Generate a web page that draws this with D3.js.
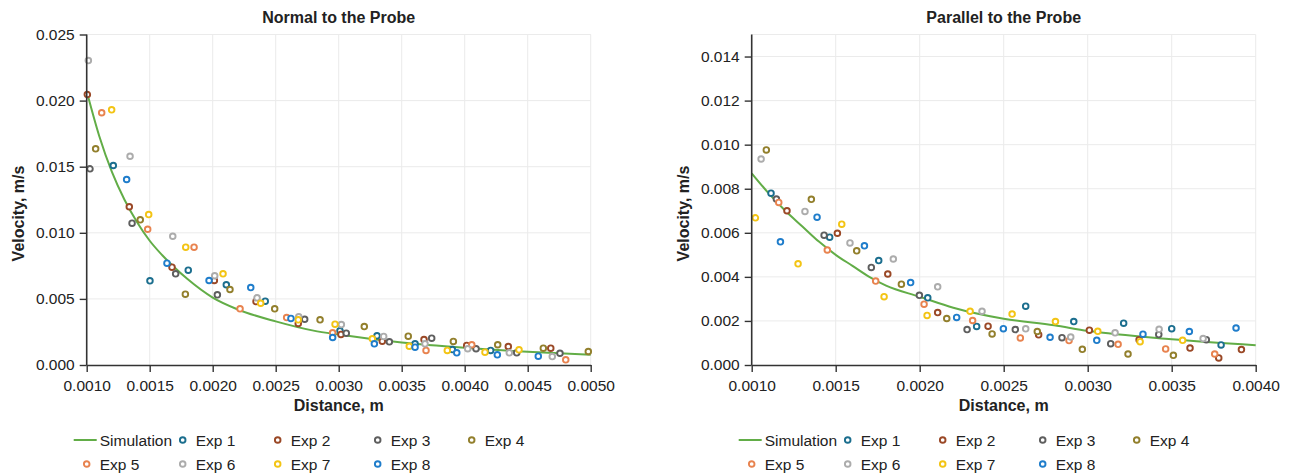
<!DOCTYPE html>
<html>
<head>
<meta charset="utf-8">
<script src="https://cdn.jsdelivr.net/npm/d3@7"></script>
<style>
  body { margin: 0; background: #fff; }
  svg text { font-family: "Liberation Sans", Arial, sans-serif; fill: #222; }
</style>
</head>
<body>
<script>
// simulation curves
var normalSimDist = [0.0010, 0.0011, 0.0012, 0.0013, 0.0014, 0.0015, 0.0016, 0.0018, 0.0020, 0.0022, 0.0025, 0.0028, 0.0030, 0.0035, 0.0040, 0.0045, 0.0050];
var normalSimVel  = [0.0207, 0.0173, 0.0146, 0.0125, 0.0108, 0.0094, 0.0083, 0.0065, 0.0051, 0.0042, 0.0033, 0.0026, 0.0023, 0.0017, 0.0013, 0.0010, 0.00078];

var parallelSimDist = [0.0010, 0.0011, 0.0012, 0.0013, 0.0014, 0.0015, 0.0016, 0.0017, 0.0018, 0.0020, 0.0022, 0.0025, 0.0028, 0.0030, 0.0035, 0.0040];
var parallelSimVel  = [0.0087, 0.0078, 0.0070, 0.0063, 0.0056, 0.0050, 0.0045, 0.0040, 0.0036, 0.0031, 0.0026, 0.0021, 0.0018, 0.00155, 0.00117, 0.00090];

// measurements, [distance, velocity]
var normalExp1 = [[0.001211,0.01509],[0.001502,0.00637],[0.001806,0.00717],[0.002108,0.00607],[0.002417,0.00483],[0.003010,0.00259],[0.003304,0.00221],[0.003606,0.00160],[0.003902,0.00117],[0.004206,0.00110]];
var normalExp2 = [[0.001005,0.02046],[0.001338,0.01197],[0.001677,0.00740],[0.002013,0.00639],[0.002344,0.00480],[0.002679,0.00314],[0.003018,0.00231],[0.003346,0.00180],[0.003677,0.00193],[0.004016,0.00148],[0.004346,0.00140],[0.004683,0.00127]];
var normalExp3 = [[0.001026,0.01484],[0.001360,0.01073],[0.001706,0.00690],[0.002037,0.00531],[0.002730,0.00346],[0.003060,0.00241],[0.003402,0.00175],[0.003738,0.00203],[0.004090,0.00123],[0.004413,0.00092],[0.004756,0.00089]];
var normalExp4 = [[0.001071,0.01635],[0.001425,0.01098],[0.001783,0.00536],[0.002137,0.00571],[0.002492,0.00425],[0.002852,0.00342],[0.003203,0.00291],[0.003552,0.00218],[0.003910,0.00178],[0.004262,0.00153],[0.004624,0.00127],[0.004981,0.00102]];
var normalExp5 = [[0.001119,0.01908],[0.001484,0.01027],[0.001852,0.00891],[0.002217,0.00425],[0.002587,0.00359],[0.002952,0.00244],[0.003693,0.00110],[0.004056,0.00153],[0.004802,0.00039]];
var normalExp6 = [[0.001013,0.02303],[0.001344,0.01579],[0.001683,0.00974],[0.002016,0.00675],[0.002352,0.00508],[0.002683,0.00365],[0.003021,0.00306],[0.003357,0.00216],[0.003685,0.00160],[0.004024,0.00123],[0.004354,0.00092],[0.004695,0.00064]];
var normalExp7 = [[0.001198,0.01930],[0.001492,0.01138],[0.001786,0.00891],[0.002082,0.00690],[0.002381,0.00467],[0.002679,0.00342],[0.002971,0.00309],[0.003267,0.00198],[0.003560,0.00142],[0.003862,0.00110],[0.004161,0.00097],[0.004431,0.00115]];
var normalExp8 = [[0.001317,0.01403],[0.001637,0.00770],[0.001971,0.00639],[0.002302,0.00586],[0.002621,0.00352],[0.002952,0.00208],[0.003283,0.00160],[0.003606,0.00135],[0.003937,0.00092],[0.004259,0.00077],[0.004584,0.00067]];

var parallelExp1 = [[0.001115,0.00780],[0.001464,0.00580],[0.001756,0.00474],[0.002048,0.00305],[0.002339,0.00175],[0.002631,0.00267],[0.002917,0.00197],[0.003214,0.00190],[0.003500,0.00165],[0.003794,0.00091]];
var parallelExp2 = [[0.001210,0.00700],[0.001510,0.00598],[0.001810,0.00413],[0.002107,0.00238],[0.002407,0.00176],[0.002708,0.00137],[0.003010,0.00158],[0.003306,0.00115],[0.003609,0.00077],[0.003780,0.00032],[0.003915,0.00070]];
var parallelExp3 = [[0.001147,0.00753],[0.001431,0.00589],[0.001712,0.00443],[0.001998,0.00316],[0.002282,0.00161],[0.002569,0.00161],[0.002847,0.00124],[0.003137,0.00097],[0.003423,0.00138],[0.003706,0.00115]];
var parallelExp4 = [[0.001087,0.00976],[0.001355,0.00752],[0.001625,0.00518],[0.001891,0.00367],[0.002161,0.00211],[0.002431,0.00141],[0.002700,0.00152],[0.002968,0.00071],[0.003240,0.00050],[0.003510,0.00044]];
var parallelExp5 = [[0.001161,0.00738],[0.001450,0.00522],[0.001738,0.00381],[0.002026,0.00276],[0.002315,0.00202],[0.002599,0.00123],[0.002889,0.00111],[0.003181,0.00094],[0.003464,0.00073],[0.003756,0.00050]];
var parallelExp6 = [[0.001056,0.00935],[0.001317,0.00697],[0.001585,0.00554],[0.001843,0.00481],[0.002107,0.00355],[0.002371,0.00244],[0.002631,0.00164],[0.002899,0.00127],[0.003163,0.00146],[0.003425,0.00162],[0.003687,0.00120]];
var parallelExp7 = [[0.001022,0.00668],[0.001276,0.00459],[0.001536,0.00639],[0.001788,0.00310],[0.002044,0.00225],[0.002300,0.00244],[0.002550,0.00231],[0.002808,0.00197],[0.003060,0.00153],[0.003312,0.00106],[0.003565,0.00112]];
var parallelExp8 = [[0.001171,0.00559],[0.001389,0.00671],[0.001671,0.00541],[0.001946,0.00374],[0.002220,0.00216],[0.002498,0.00165],[0.002776,0.00126],[0.003054,0.00112],[0.003329,0.00140],[0.003605,0.00152],[0.003883,0.00168]];

var expNames = ["Exp 1", "Exp 2", "Exp 3", "Exp 4", "Exp 5", "Exp 6", "Exp 7", "Exp 8"];
var expColors = ["#1b6e8e", "#9a4826", "#5e5e5e", "#927f2c", "#e8834f", "#acacac", "#f3c414", "#1f7dcb"];
var simColor = "#62ad47";

var normalXTicks = [0.0010, 0.0015, 0.0020, 0.0025, 0.0030, 0.0035, 0.0040, 0.0045, 0.0050];
var normalYTicks = [0.000, 0.005, 0.010, 0.015, 0.020, 0.025];
var parallelXTicks = [0.0010, 0.0015, 0.0020, 0.0025, 0.0030, 0.0035, 0.0040];
var parallelYTicks = [0.000, 0.002, 0.004, 0.006, 0.008, 0.010, 0.012, 0.014];

var svg = d3.select("body")
    .append("svg")
    .attr("width", 1289)
    .attr("height", 476);

function drawChart(opt) {
    var left = opt.left, top = 34.5, width = 504, height = 330.5;
    var g = svg.append("g").attr("transform", "translate(" + left + "," + top + ")");

    var x = d3.scaleLinear().domain(opt.xDomain).range([0, width]);
    var y = d3.scaleLinear().domain(opt.yDomain).range([height, 0]);

    // gridlines
    g.append("g").selectAll("line")
        .data(opt.xTicks.slice(1))
        .enter().append("line")
        .attr("x1", function(d) { return x(d); })
        .attr("x2", function(d) { return x(d); })
        .attr("y1", 0).attr("y2", height)
        .attr("stroke", "#ebebeb");
    g.append("g").selectAll("line")
        .data(opt.yTicks.slice(1).concat([opt.yDomain[1]]))
        .enter().append("line")
        .attr("x1", 0).attr("x2", width)
        .attr("y1", function(d) { return y(d); })
        .attr("y2", function(d) { return y(d); })
        .attr("stroke", "#ebebeb");

    // simulation
    var line = d3.line()
        .x(function(d) { return x(d[0]); })
        .y(function(d) { return y(d[1]); })
        .curve(d3.curveMonotoneX);
    g.append("path")
        .datum(d3.zip(opt.simDist, opt.simVel))
        .attr("d", line)
        .attr("fill", "none")
        .attr("stroke", simColor)
        .attr("stroke-width", 2);

    // experiments
    opt.exps.forEach(function(pts, i) {
        g.append("g").selectAll("circle")
            .data(pts)
            .enter().append("circle")
            .attr("cx", function(d) { return x(d[0]); })
            .attr("cy", function(d) { return y(d[1]); })
            .attr("r", 2.8)
            .attr("fill", "#fff")
            .attr("stroke", expColors[i])
            .attr("stroke-width", 1.9);
    });

    // X-as
    var xa = g.append("g")
        .attr("transform", "translate(0," + height + ")")
        .call(d3.axisBottom(x).tickValues(opt.xTicks).tickFormat(d3.format(".4f"))
            .tickSizeInner(7).tickSizeOuter(0).tickPadding(8));
    // Y-as
    var ya = g.append("g")
        .call(d3.axisLeft(y).tickValues(opt.yTicks).tickFormat(d3.format(".3f"))
            .tickSizeInner(7).tickSizeOuter(0).tickPadding(5));
    [xa, ya].forEach(function(a) {
        a.select(".domain").attr("stroke", "#333").attr("stroke-width", 1.6);
        a.selectAll(".tick line").attr("stroke", "#333").attr("stroke-width", 1.4);
        a.selectAll("text").style("font-size", "15.5px").style("fill", "#222");
    });
    ya.select(".domain").attr("d", "M0," + height + "V0");

    // titels
    g.append("text")
        .attr("x", width / 2).attr("y", -12)
        .attr("text-anchor", "middle")
        .style("font-size", "16px").style("font-weight", "bold")
        .text(opt.title);
    g.append("text")
        .attr("x", width / 2).attr("y", height + 46)
        .attr("text-anchor", "middle")
        .style("font-size", "16px").style("font-weight", "bold")
        .text("Distance, m");
    g.append("text")
        .attr("transform", "translate(" + (-63) + "," + 179 + ") rotate(-90)")
        .attr("text-anchor", "middle")
        .style("font-size", "16px").style("font-weight", "bold")
        .text("Velocity, m/s");

    // legend
    var cols = [0, 96, 191, 291, 385];
    var lg = svg.append("g").attr("transform", "translate(" + left + ",0)");
    lg.append("line")
        .attr("x1", -13).attr("x2", 10)
        .attr("y1", 440).attr("y2", 440)
        .attr("stroke", simColor).attr("stroke-width", 2);
    lg.append("text")
        .attr("x", 13).attr("y", 445.5)
        .style("font-size", "15.5px")
        .text("Simulation");
    expNames.forEach(function(name, i) {
        var k = i + 1, col = k % 5, row = Math.floor(k / 5);
        var cx = cols[col];
        var cy = 440 + row * 24;
        lg.append("circle")
            .attr("cx", cx).attr("cy", cy).attr("r", 2.8)
            .attr("fill", "#fff")
            .attr("stroke", expColors[i]).attr("stroke-width", 1.9);
        lg.append("text")
            .attr("x", cx + 13).attr("y", cy + 5.5)
            .style("font-size", "15.5px")
            .text(name);
    });
}

drawChart({
    left: 86.7,
    title: "Normal to the Probe",
    xDomain: [0.001, 0.005], yDomain: [0, 0.025],
    xTicks: normalXTicks, yTicks: normalYTicks,
    simDist: normalSimDist, simVel: normalSimVel,
    exps: [normalExp1, normalExp2, normalExp3, normalExp4, normalExp5, normalExp6, normalExp7, normalExp8]
});

drawChart({
    left: 751.7,
    title: "Parallel to the Probe",
    xDomain: [0.001, 0.004], yDomain: [0, 0.015],
    xTicks: parallelXTicks, yTicks: parallelYTicks,
    simDist: parallelSimDist, simVel: parallelSimVel,
    exps: [parallelExp1, parallelExp2, parallelExp3, parallelExp4, parallelExp5, parallelExp6, parallelExp7, parallelExp8]
});
</script>
</body>
</html>
